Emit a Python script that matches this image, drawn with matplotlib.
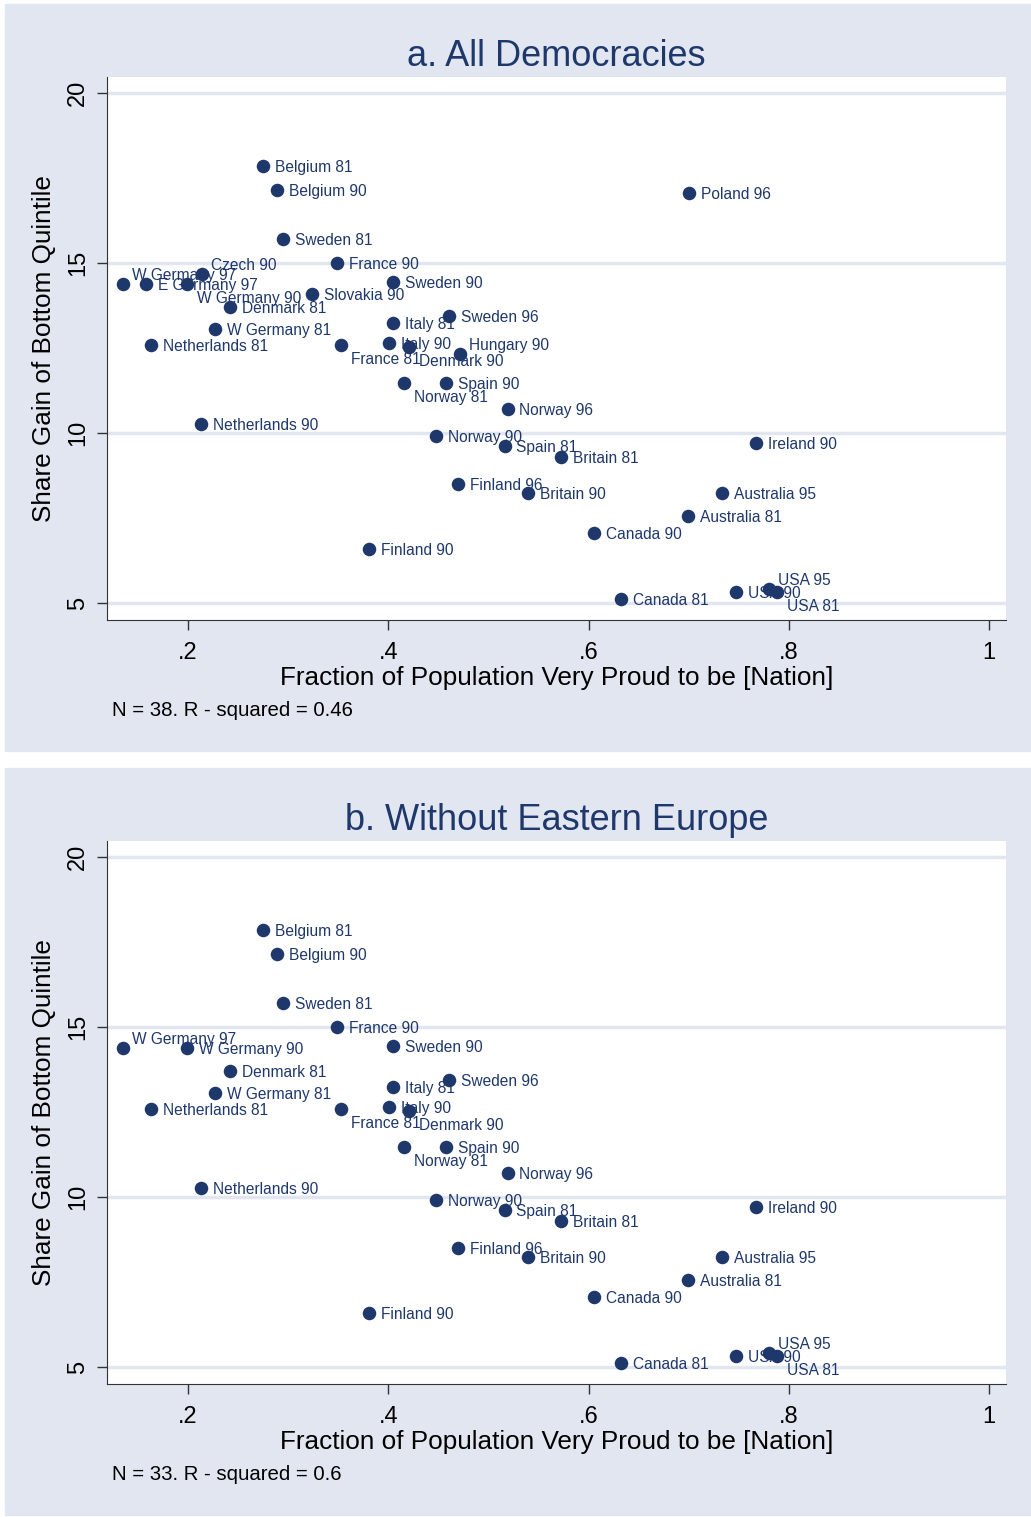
import numpy as np
import matplotlib
matplotlib.use("Agg")
import matplotlib.pyplot as plt
from matplotlib.patches import Rectangle

plt.rcParams['font.family'] = ['Liberation Sans', 'DejaVu Sans']

# country-year labels, pride share (x), share gain of bottom quintile (y)
names = ["Belgium 81", "Belgium 90", "Poland 96", "Sweden 81", "France 90",
         "W Germany 97", "E Germany 97", "W Germany 90", "Czech 90", "Denmark 81",
         "W Germany 81", "Netherlands 81", "Slovakia 90", "Sweden 90", "Italy 81",
         "France 81", "Italy 90", "Denmark 90", "Sweden 96", "Hungary 90",
         "Norway 81", "Spain 90", "Norway 96", "Norway 90", "Spain 81",
         "Britain 81", "Netherlands 90", "Ireland 90", "Finland 96", "Britain 90",
         "Australia 95", "Australia 81", "Canada 90", "Finland 90", "Canada 81",
         "USA 90", "USA 95", "USA 81"]
proud = [0.275, 0.289, 0.700, 0.295, 0.349,
         0.135, 0.158, 0.199, 0.214, 0.242,
         0.227, 0.163, 0.324, 0.405, 0.405,
         0.353, 0.401, 0.421, 0.461, 0.472,
         0.416, 0.458, 0.519, 0.448, 0.516,
         0.572, 0.213, 0.767, 0.470, 0.539,
         0.733, 0.699, 0.605, 0.381, 0.632,
         0.747, 0.780, 0.788]
gain = [17.85, 17.15, 17.06, 15.71, 15.00,
        14.38, 14.38, 14.38, 14.68, 13.71,
        13.06, 12.59, 14.09, 14.44, 13.24,
        12.59, 12.65, 12.53, 13.44, 12.32,
        11.47, 11.47, 10.71, 9.91, 9.62,
        9.29, 10.26, 9.71, 8.50, 8.24,
        8.24, 7.56, 7.06, 6.59, 5.12,
        5.32, 5.41, 5.32]
eastern = ["Poland 96", "E Germany 97", "Czech 90", "Slovakia 90", "Hungary 90"]
# label positions: r = right, ur = upper right, lr = lower right
pos_a = {"W Germany 97": "ur", "Czech 90": "ur", "Hungary 90": "ur", "USA 95": "ur",
         "W Germany 90": "lr", "France 81": "lr", "Denmark 90": "lr",
         "Norway 81": "lr", "USA 81": "lr"}
pos_b = dict(pos_a)
pos_b["W Germany 90"] = "r"

titles = ["a. All Democracies", "b. Without Eastern Europe"]
notes = ["N = 38. R - squared = 0.46", "N = 33. R - squared = 0.6"]
xticks = [0.2, 0.4, 0.6, 0.8, 1.0]
xticklabels = [".2", ".4", ".6", ".8", "1"]
yticks = [5, 10, 15, 20]

navy = "#1f386b"
bg = "#e1e6f0"
offsets = {"r": (8.6, -1.2), "ur": (6.5, 6.0), "lr": (7.2, -10.6)}

W, H = 1031, 1517
fig = plt.figure(figsize=(W / 100, H / 100), dpi=100)

for k in range(2):
    shift = 764 * k
    fig.patches.append(Rectangle((5 / W, 1 - (751 + shift) / H), 1 - 5 / W, 747 / H,
                                 transform=fig.transFigure, color=bg, zorder=-10))
    ax = fig.add_axes([107 / W, 1 - (620 + shift) / H, 899 / W, 543 / H])
    ax.set_facecolor("white")
    if k == 0:
        idx = range(len(names))
        pos = pos_a
    else:
        idx = [i for i in range(len(names)) if names[i] not in eastern]
        pos = pos_b
    xs = [proud[i] for i in idx]
    ys = [gain[i] for i in idx]
    ax.scatter(xs, ys, s=95, color=navy, zorder=3, linewidths=0)
    for i in idx:
        dx, dy = offsets[pos.get(names[i], "r")]
        ax.annotate(names[i], (proud[i], gain[i]), xytext=(dx, dy),
                    textcoords="offset points", ha="left", va="center",
                    fontsize=11.2, color=navy, zorder=4)
    ax.set_xlim(0.119, 1.0168)
    ax.set_ylim(4.5, 20.47)
    ax.set_xticks(xticks)
    ax.set_xticklabels(xticklabels)
    ax.set_yticks(yticks)
    ax.set_yticklabels([str(t) for t in yticks], rotation=90, va="center")
    for t in yticks:
        ax.axhline(t, color=bg, lw=2.5, zorder=1)
    ax.spines["top"].set_visible(False)
    ax.spines["right"].set_visible(False)
    ax.spines["left"].set_color("#333333")
    ax.spines["bottom"].set_color("#333333")
    ax.tick_params(axis="both", length=7, width=1, color="#333333",
                   labelsize=17, labelcolor="black", pad=6)
    ax.tick_params(axis="x", pad=9)
    ax.set_xlabel("Fraction of Population Very Proud to be [Nation]", fontsize=18.8,
                  labelpad=1)
    ax.set_ylabel("Share Gain of Bottom Quintile", fontsize=18.8, labelpad=8)
    ax.set_title(titles[k], fontsize=26, color=navy, pad=8)
    fig.text(112 / W, 1 - (710 + shift) / H, notes[k], fontsize=14.7,
             ha="left", va="center")

fig.savefig("out.png", dpi=100)
